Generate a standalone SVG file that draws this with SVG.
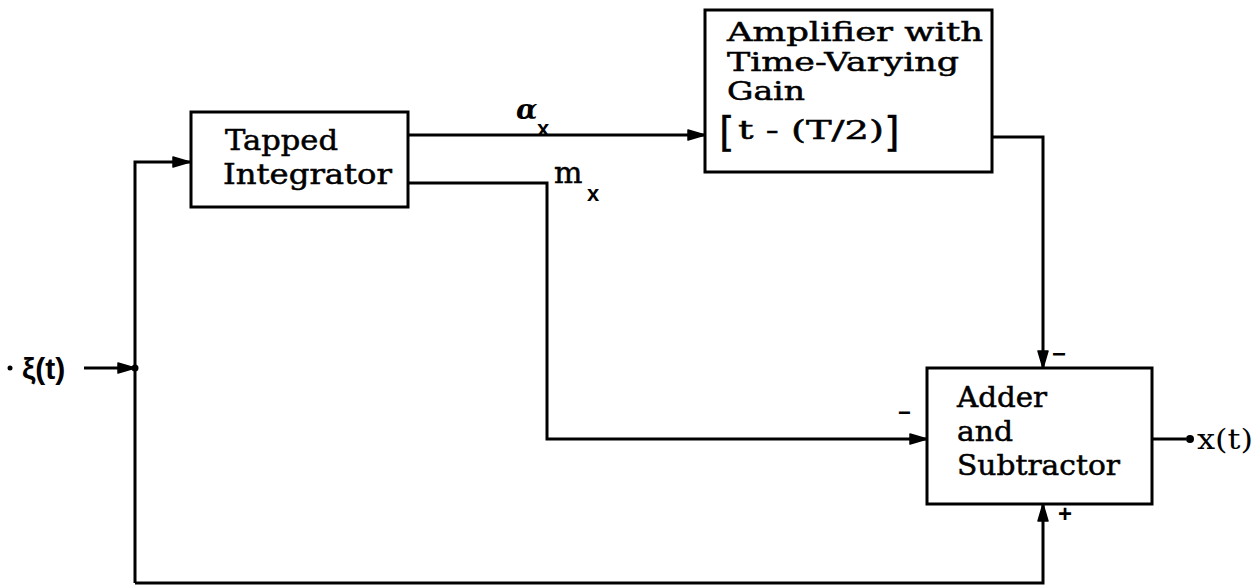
<svg xmlns="http://www.w3.org/2000/svg" width="1258" height="586" viewBox="0 0 1258 586">
<style>
.box{fill:#fff;stroke:#000;stroke-width:3}
.ln{fill:none;stroke:#000;stroke-width:3}
.t{font-family:"DejaVu Serif","Liberation Serif",serif;font-size:27px;fill:#000;stroke:#000;stroke-width:0.5}
.ta{font-family:"DejaVu Serif","Liberation Serif",serif;font-size:26px;fill:#000;stroke:#000;stroke-width:0.5}
.br{font-family:"DejaVu Sans","Liberation Sans",sans-serif;font-size:40px;fill:#000;stroke:#000;stroke-width:0.4}
.lb{font-family:"Liberation Sans",Arial,sans-serif;font-weight:bold;fill:#000}
.sg{font-family:"DejaVu Serif","Liberation Serif",serif;fill:#000}
</style>
<defs>
<marker id="ah" markerUnits="userSpaceOnUse" markerWidth="22" markerHeight="16" refX="19" refY="8" orient="auto">
<path d="M2,3 L19,8 L2,13 Z" fill="#000" stroke="#000" stroke-width="1.5" stroke-linejoin="round"/>
</marker>
</defs>
<g id="connectors">
<line class="ln" x1="84" y1="368" x2="135" y2="368" marker-end="url(#ah)"/>
<circle cx="135" cy="368" r="3.5" fill="#000"/>
<path class="ln" d="M135,583 V162 H190" marker-end="url(#ah)"/>
<path class="ln" d="M408,135 H705" marker-end="url(#ah)"/>
<path class="ln" d="M408,183 H547 V439 H927" marker-end="url(#ah)"/>
<path class="ln" d="M992,137 H1043 V368" marker-end="url(#ah)"/>
<path class="ln" d="M135,583 H1043 V504" marker-end="url(#ah)"/>
<line class="ln" x1="1152" y1="439" x2="1186" y2="439"/>
<circle cx="1190" cy="439" r="4" fill="#000"/>
</g>
<g id="input">
<circle cx="10" cy="368" r="2.5" fill="#000"/>
<text class="lb" x="22" y="379" font-size="30">ξ(t)</text>
</g>
<g id="tapped-integrator">
<rect class="box" x="191" y="112" width="217" height="95"/>
<text class="t" x="225" y="150" textLength="113" lengthAdjust="spacingAndGlyphs">Tapped</text>
<text class="t" x="223" y="184" textLength="169" lengthAdjust="spacingAndGlyphs">Integrator</text>
</g>
<g id="amplifier">
<rect class="box" x="705" y="10" width="287" height="162"/>
<text class="ta" x="727" y="41" textLength="256" lengthAdjust="spacingAndGlyphs">Amplifier with</text>
<text class="ta" x="727" y="71" textLength="232" lengthAdjust="spacingAndGlyphs">Time-Varying</text>
<text class="ta" x="727" y="100" textLength="78" lengthAdjust="spacingAndGlyphs">Gain</text>
<text class="br" x="719" y="146">[</text>
<text class="ta" x="738" y="139" textLength="146" lengthAdjust="spacingAndGlyphs">t - (T/2)</text>
<text class="br" x="884" y="146">]</text>
</g>
<g id="adder">
<rect class="box" x="927" y="368" width="225" height="136"/>
<text class="t" x="957" y="407" textLength="90" lengthAdjust="spacingAndGlyphs">Adder</text>
<text class="t" x="957" y="441" textLength="56" lengthAdjust="spacingAndGlyphs">and</text>
<text class="t" x="957" y="475" textLength="163" lengthAdjust="spacingAndGlyphs">Subtractor</text>
</g>
<g id="labels">
<text class="sg" x="516" y="119" font-size="28" font-style="italic" font-weight="bold">α</text>
<text class="lb" x="537" y="136" font-size="22">x</text>
<text class="sg" x="554" y="183" font-size="30" stroke="#000" stroke-width="0.5">m</text>
<text class="lb" x="587" y="201" font-size="22">x</text>
<text class="lb" x="898" y="420" font-size="22">−</text>
<text class="lb" x="1052" y="362" font-size="24">−</text>
<text class="lb" x="1058" y="522" font-size="24">+</text>
<text class="sg" x="1197" y="449" font-size="28" textLength="56" lengthAdjust="spacingAndGlyphs">x(t)</text>
</g>
</svg>
